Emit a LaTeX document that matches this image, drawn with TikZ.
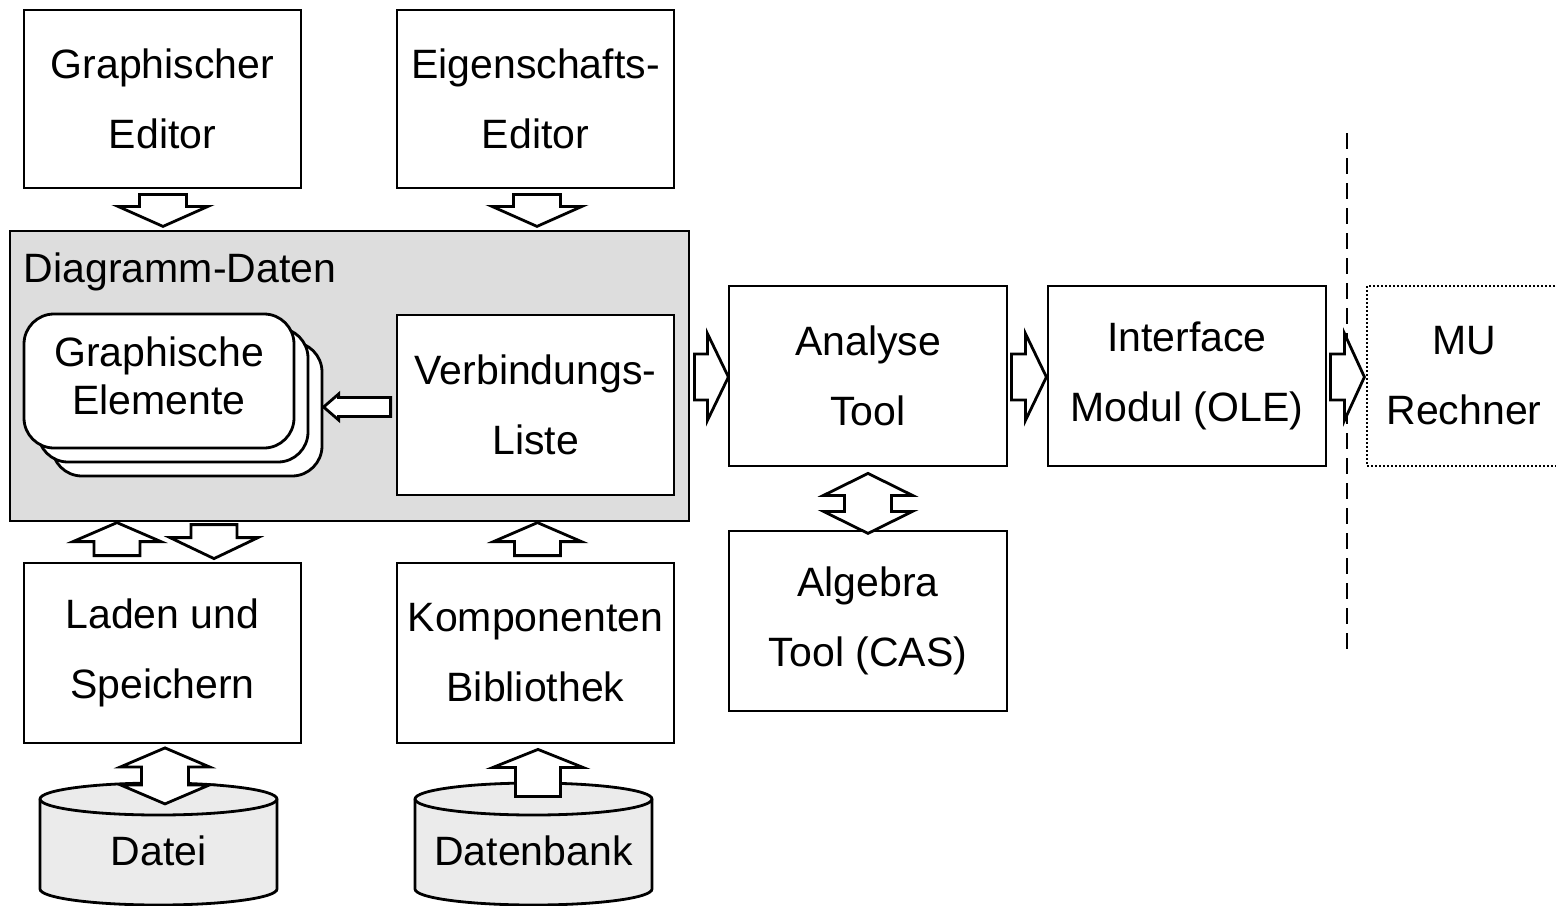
\documentclass[tikz,border=0pt]{standalone}
\usepackage{fontspec}
\setmainfont{Liberation Sans}
\usetikzlibrary{calc}

\newcommand\dgfont{\fontsize{20.5pt}{35pt}\selectfont}
\newcommand\dgfonttight{\fontsize{20.5pt}{24pt}\selectfont}
\definecolor{areagray}{HTML}{DDDDDD}
\definecolor{cylgray}{HTML}{EBEBEB}

\tikzset{
  box/.style={draw, line width=1.4pt, fill=white, align=center, inner sep=0pt,
    minimum width=138.5pt, minimum height=90pt, font=\dgfont},
  area/.style={draw, line width=1.4pt, fill=areagray, inner sep=0pt},
  stackbox/.style={draw, line width=1.4pt, fill=white, rounded corners=15pt,
    minimum width=135pt, minimum height=67pt, inner sep=0pt, font=\dgfonttight},
  extbox/.style={draw, line width=1pt, dash pattern=on 1pt off 1pt, fill=white,
    align=center, inner sep=0pt, minimum width=97pt, minimum height=90pt, font=\dgfont},
  cylbody/.style={draw, line width=1.4pt, fill=cylgray},
  boundary/.style={draw, line width=1pt, dash pattern=on 8pt off 4.5pt},
  blockarrow/.style={draw, line width=1.4pt, fill=white, line join=miter},
  ba shaft/.store in=\baShaft, ba head/.store in=\baHead,
  ba hw/.store in=\baHW, ba sw/.store in=\baSW,
  ba shaft=13, ba head=20, ba hw=44, ba sw=23,
  % block arrow pointing along +x, tail at the origin
  pics/barrow/.style={code={
    \draw[blockarrow] (0,-\baSW) -- (\baShaft,-\baSW) -- (\baShaft,-\baHW)
      -- ({\baShaft+\baHead},0) -- (\baShaft,\baHW) -- (\baShaft,\baSW) -- (0,\baSW) -- cycle;}},
  % double block arrow centred at the origin, ba shaft = half shaft length
  pics/dbarrow/.style={code={
    \draw[blockarrow] ({-\baShaft-\baHead},0) -- (-\baShaft,-\baHW) -- (-\baShaft,-\baSW)
      -- (\baShaft,-\baSW) -- (\baShaft,-\baHW) -- ({\baShaft+\baHead},0)
      -- (\baShaft,\baHW) -- (\baShaft,\baSW) -- (-\baShaft,\baSW) -- (-\baShaft,\baHW) -- cycle;}},
}

\begin{document}
\begin{tikzpicture}[x=0.5pt,y=-0.5pt]
\useasboundingbox (0,0) rectangle (1556,905);
\clip (0,0) rectangle (1556,905);

% partition between local tools and the external computer
\coordinate (bt) at (1347,133);
\coordinate (bb) at (1347,655);
\draw[boundary] (bt) -- (bb);

% editors
\node[box, minimum height=89pt] (ged) at (162.5,99) {Graphischer\\Editor};
\node[box, minimum height=89pt] (eed) at (535.5,99) {Eigenschafts-\\Editor};

% diagram data area
\node[area, minimum width=339.5pt, minimum height=145pt] (dd) at (349.5,376) {};
\node[anchor=base west, font=\dgfont, inner sep=0pt] (ddl) at ($(dd.north west)+(15,53)$) {Diagramm-Daten};

% stacked graphic elements
\node[stackbox] (ge3) at (187,409) {};
\node[stackbox] (ge2) at (173,395) {};
\node[stackbox] (ge) at (159,381)
  {\raisebox{2.5pt}{\begin{tabular}{@{}c@{}}Graphische\\Elemente\end{tabular}}};
\node[box] (vl) at (535.5,405) {Verbindungs-\\Liste};

% loading / library
\node[box] (ls) at (162.5,653) {Laden und\\Speichern};
\node[box] (kb) at (535.5,653) {Komponenten\\Bibliothek};

% analysis chain
\node[box, minimum width=139pt] (at) at (868,376) {Analyse\\Tool};
\node[box, minimum width=139pt] (al) at (868,621) {Algebra\\Tool (CAS)};
\node[box, minimum width=139pt] (im) at (1187,376) {Interface\\Modul (OLE)};
\node[extbox] (mu) at (1464,376) {MU\\Rechner};

% storage cylinders
\path[cylbody] (40,799) -- (40,889) arc[start angle=180, end angle=0, x radius=118.5, y radius=16]
  -- (277,799) arc[start angle=0, end angle=-180, x radius=118.5, y radius=16] -- cycle;
\draw[line width=1.4pt] (40,799) arc[start angle=180, end angle=0, x radius=118.5, y radius=16];
\node[font=\dgfont] (datei) at (158.5,851) {Datei};

\path[cylbody] (415,799) -- (415,889) arc[start angle=180, end angle=0, x radius=118.5, y radius=16]
  -- (652,799) arc[start angle=0, end angle=-180, x radius=118.5, y radius=16] -- cycle;
\draw[line width=1.4pt] (415,799) arc[start angle=180, end angle=0, x radius=118.5, y radius=16];
\node[font=\dgfont] (db) at (533.5,851) {Datenbank};

% block arrows
\pic[rotate=-90, ba shaft=12, ba hw=45, ba sw=23.5] at ($(ged.south)+(0.5,5)$) {barrow};
\pic[rotate=-90, ba shaft=12, ba hw=45, ba sw=23.5] at ($(eed.south)+(1.5,5)$) {barrow};
\pic[rotate=180, ba shaft=52, ba head=15, ba hw=13, ba sw=9.5] at ($(vl.west)+(-5,2)$) {barrow};
\pic[rotate=90, ba shaft=14, ba head=19] at ($(ls.north)+(-45.5,-6)$) {barrow};
\pic[rotate=-90, ba shaft=13, ba head=21] at ($(ls.north)+(51.5,-37)$) {barrow};
\pic[rotate=90, ba shaft=14, ba head=19] at ($(kb.north)+(2,-6)$) {barrow};
\pic[ba shaft=13, ba head=21, ba hw=43.5] at ($(dd.east)+(4,1)$) {barrow};
\pic[ba shaft=14, ba head=21, ba hw=43.5] at ($(at.east)+(3,1)$) {barrow};
\pic[ba shaft=14, ba head=20, ba hw=43.5] at ($(im.east)+(3,1)$) {barrow};
\pic[rotate=90, ba hw=44.5, ba sw=23.5, ba shaft=9, ba head=19] at ($(ls.south)+(2.5,31.5)$) {dbarrow};
\pic[rotate=90, ba shaft=29, ba head=18, ba hw=45, ba sw=22.5] at ($(kb.south)+(2.5,52)$) {barrow};
\pic[rotate=90, ba shaft=8, ba head=22, ba hw=44.5, ba sw=23.5] at ($(at.south)+(0,36)$) {dbarrow};
\end{tikzpicture}
\end{document}
